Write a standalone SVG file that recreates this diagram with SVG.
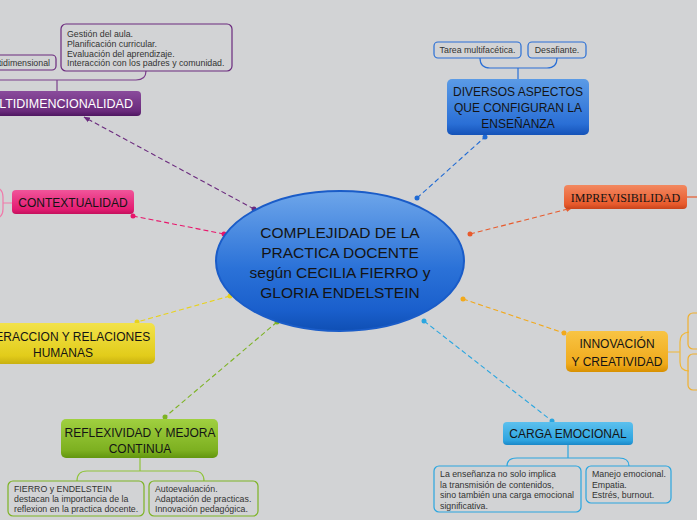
<svg xmlns="http://www.w3.org/2000/svg" width="697" height="520" viewBox="0 0 697 520">
<defs>
<linearGradient id="gCenter" x1="0" y1="0" x2="0" y2="1"><stop offset="0" stop-color="#6ea6ea"/><stop offset="0.55" stop-color="#2b72d8"/><stop offset="0.85" stop-color="#1a5fcc"/><stop offset="1" stop-color="#0f4fb4"/></linearGradient>
<linearGradient id="gPurple" x1="0" y1="0" x2="0" y2="1"><stop offset="0" stop-color="#8a4c9c"/><stop offset="0.8" stop-color="#6a2a7c"/><stop offset="1" stop-color="#4e1660"/></linearGradient>
<linearGradient id="gBlue" x1="0" y1="0" x2="0" y2="1"><stop offset="0" stop-color="#5b9be6"/><stop offset="0.8" stop-color="#2a6fd6"/><stop offset="1" stop-color="#1452b8"/></linearGradient>
<linearGradient id="gPink" x1="0" y1="0" x2="0" y2="1"><stop offset="0" stop-color="#f0559a"/><stop offset="0.8" stop-color="#e41c72"/><stop offset="1" stop-color="#c4105c"/></linearGradient>
<linearGradient id="gRed" x1="0" y1="0" x2="0" y2="1"><stop offset="0" stop-color="#f28860"/><stop offset="0.8" stop-color="#e85a2c"/><stop offset="1" stop-color="#c8441c"/></linearGradient>
<linearGradient id="gYellow" x1="0" y1="0" x2="0" y2="1"><stop offset="0" stop-color="#f2e24a"/><stop offset="0.8" stop-color="#e2cc1a"/><stop offset="1" stop-color="#c8b010"/></linearGradient>
<linearGradient id="gOrange" x1="0" y1="0" x2="0" y2="1"><stop offset="0" stop-color="#f8c444"/><stop offset="0.8" stop-color="#f0aa1c"/><stop offset="1" stop-color="#d89000"/></linearGradient>
<linearGradient id="gGreen" x1="0" y1="0" x2="0" y2="1"><stop offset="0" stop-color="#a0d040"/><stop offset="0.8" stop-color="#7db020"/><stop offset="1" stop-color="#62960e"/></linearGradient>
<linearGradient id="gSky" x1="0" y1="0" x2="0" y2="1"><stop offset="0" stop-color="#5cc0ee"/><stop offset="0.8" stop-color="#2ea4e0"/><stop offset="1" stop-color="#1a88c8"/></linearGradient>
<marker id="arrRed" viewBox="0 0 10 10" refX="9" refY="5" markerWidth="6" markerHeight="6" orient="auto"><path d="M0 1 L10 5 L0 9 z" fill="#e85a2c"/></marker>
<marker id="arrPurple" viewBox="0 0 10 10" refX="9" refY="5" markerWidth="6" markerHeight="6" orient="auto"><path d="M0 1 L10 5 L0 9 z" fill="#6b2a7e"/></marker>
</defs>
<style>
.node text{font-family:"Liberation Sans",Arial,sans-serif;font-size:12px;fill:#141414;text-anchor:middle}
.node text.big{font-size:15.5px}
.node text.light{fill:#fff;text-anchor:end;font-size:12.5px}
.sub rect{fill:none;stroke-width:1.2}
.sub text{font-family:"Liberation Sans",Arial,sans-serif;font-size:8.8px;fill:#333}
.br{fill:none;stroke-width:1.2}
.con line{fill:none;stroke-width:1.1;stroke-dasharray:5 3}
</style>
<rect width="697" height="520" fill="#d2d3d5"/>

<g id="connectors" class="con">
<line x1="254" y1="209" x2="84" y2="117" stroke="#6b2a7e" marker-end="url(#arrPurple)"/>
<line x1="417" y1="198" x2="485" y2="137" stroke="#1f6ad4"/>
<line x1="224" y1="234" x2="133" y2="216" stroke="#e8156b"/>
<line x1="470" y1="234" x2="572" y2="208" stroke="#e85a2c" marker-end="url(#arrRed)"/>
<line x1="230" y1="296" x2="137" y2="322" stroke="#e8d21c"/>
<line x1="463" y1="299" x2="564" y2="333" stroke="#f2a91c"/>
<line x1="277" y1="322" x2="165" y2="417" stroke="#7db324"/>
<line x1="424" y1="321" x2="552" y2="421" stroke="#2aa6e0"/>
<circle cx="254" cy="209" r="2.5" fill="#6b2a7e"/>
<circle cx="417" cy="198" r="2.5" fill="#1f6ad4"/>
<circle cx="485" cy="137" r="2.5" fill="#1f6ad4"/>
<circle cx="224" cy="234" r="2.5" fill="#e8156b"/>
<circle cx="133" cy="216" r="2.5" fill="#e8156b"/>
<circle cx="470" cy="234" r="2.5" fill="#e85a2c"/>
<circle cx="230" cy="296" r="2.5" fill="#e8d21c"/>
<circle cx="137" cy="322" r="2.5" fill="#e8d21c"/>
<circle cx="463" cy="299" r="2.5" fill="#f2a91c"/>
<circle cx="564" cy="333" r="2.5" fill="#f2a91c"/>
<circle cx="277" cy="322" r="2.5" fill="#7db324"/>
<circle cx="165" cy="417" r="2.5" fill="#7db324"/>
<circle cx="424" cy="321" r="2.5" fill="#2aa6e0"/>
<circle cx="552" cy="421" r="2.5" fill="#2aa6e0"/>
</g>

<g id="center" class="node">
<ellipse cx="340" cy="261" rx="124" ry="70" fill="url(#gCenter)" stroke="#1a5cc8" stroke-width="2"/>
<text class="big" x="340" y="237.5">COMPLEJIDAD DE LA</text>
<text class="big" x="340" y="257.5">PRACTICA DOCENTE</text>
<text class="big" x="340" y="277.5">según CECILIA FIERRO y</text>
<text class="big" x="340" y="297.5">GLORIA ENDELSTEIN</text>
</g>

<g id="multidimensionalidad">
<path class="br" stroke="#7b3f8c" d="M57 91 V80 M-10 80 H136 Q146 80 146 71"/>
<g class="sub"><rect x="-60" y="55" width="116" height="15" rx="4" stroke="#6b2a7e"/><text x="50" y="65.5" text-anchor="end">Multidimensional</text></g>
<g class="sub"><rect x="61" y="24" width="171" height="47" rx="5" stroke="#6b2a7e"/>
<text x="67" y="36.5">Gestión del aula.</text><text x="67" y="46.5">Planificación curricular.</text><text x="67" y="56.5">Evaluación del aprendizaje.</text><text x="67" y="66">Interacción con los padres y comunidad.</text></g>
<g class="node"><rect x="-30" y="91" width="171" height="25" rx="4" fill="url(#gPurple)"/>
<text class="light" x="133" y="108">MULTIDIMENCIONALIDAD</text></g>
</g>

<g id="diversos">
<path class="br" stroke="#2a6fd6" d="M518 79 V68 M480 58 Q480 68 490 68 H547 Q557 68 557 58"/>
<g class="sub"><rect x="434" y="42" width="87" height="16" rx="4" stroke="#2a6fd6"/><text x="477.5" y="53" text-anchor="middle">Tarea multifacética.</text></g>
<g class="sub"><rect x="528" y="42" width="58" height="16" rx="4" stroke="#2a6fd6"/><text x="557" y="53" text-anchor="middle">Desafiante.</text></g>
<g class="node"><rect x="447" y="79" width="142" height="56" rx="5" fill="url(#gBlue)"/>
<text x="518" y="96">DIVERSOS ASPECTOS</text><text x="518" y="112">QUE CONFIGURAN LA</text><text x="518" y="128">ENSEÑANZA</text></g>
</g>

<g id="contextualidad">
<path class="br" stroke="#f07aaa" d="M12 203 H3 M-2 188 Q3 190 3 197 V209 Q3 216 -2 218"/>
<g class="node"><rect x="12" y="190" width="122" height="24" rx="4" fill="url(#gPink)"/>
<text x="73" y="207">CONTEXTUALIDAD</text></g>
</g>

<g id="imprevisibilidad">
<path class="br" stroke="#e85a2c" d="M687 197 H697"/>
<g class="node"><rect x="564" y="185" width="123" height="24" rx="4" fill="url(#gRed)"/>
<text x="625.5" y="202" style="font-family:'Liberation Serif','Times New Roman',serif">IMPREVISIBILIDAD</text></g>
</g>

<g id="interaccion">
<g class="node"><rect x="-30" y="323" width="185" height="41" rx="5" fill="url(#gYellow)"/>
<text x="63" y="341">INTERACCION Y RELACIONES</text><text x="63" y="357">HUMANAS</text></g>
</g>

<g id="innovacion">
<path class="br" stroke="#f0b838" d="M668 352 H680 M689 332 Q680 333 680 342 V362 Q680 371 689 371"/>
<g class="sub"><rect x="688" y="313" width="40" height="36" rx="5" stroke="#f0b030"/></g>
<g class="sub"><rect x="688" y="354" width="40" height="36" rx="5" stroke="#f0b030"/></g>
<g class="node"><rect x="566" y="331" width="102" height="41" rx="5" fill="url(#gOrange)"/>
<text x="617" y="348">INNOVACIÓN</text><text x="617" y="366">Y CREATIVIDAD</text></g>
</g>

<g id="reflexividad">
<path class="br" stroke="#8fc43a" d="M140 458 V471 M77 481 Q77 471 87 471 H194 Q204 471 204 481"/>
<g class="sub"><rect x="8" y="481" width="136" height="35" rx="5" stroke="#7db324"/>
<text x="14" y="492">FIERRO y ENDELSTEIN</text><text x="14" y="502">destacan la importancia de la</text><text x="14" y="512">reflexion en la practica docente.</text></g>
<g class="sub"><rect x="149" y="481" width="109" height="35" rx="5" stroke="#7db324"/>
<text x="155" y="492">Autoevaluación.</text><text x="155" y="502">Adaptación de practicas.</text><text x="155" y="512">Innovación pedagógica.</text></g>
<g class="node"><rect x="61" y="419" width="157" height="39" rx="5" fill="url(#gGreen)"/>
<text x="140" y="437">REFLEXIVIDAD Y MEJORA</text><text x="140" y="453">CONTINUA</text></g>
</g>

<g id="carga">
<path class="br" stroke="#2aa6e0" d="M568 445 V458 M507 466 Q507 458 517 458 H619 Q629 458 629 466"/>
<g class="sub"><rect x="434" y="466" width="147" height="46" rx="5" stroke="#2aa6e0"/>
<text x="440" y="477">La enseñanza no solo implica</text><text x="440" y="487.5">la transmisión de contenidos,</text><text x="440" y="498">sino también una carga emocional</text><text x="440" y="508.5">significativa.</text></g>
<g class="sub"><rect x="586" y="466" width="85" height="37" rx="5" stroke="#2aa6e0"/>
<text x="592" y="477">Manejo emocional.</text><text x="592" y="487.5">Empatia.</text><text x="592" y="498">Estrés, burnout.</text></g>
<g class="node"><rect x="503" y="422" width="130" height="23" rx="4" fill="url(#gSky)"/>
<text x="568" y="438">CARGA EMOCIONAL</text></g>
</g>
</svg>
